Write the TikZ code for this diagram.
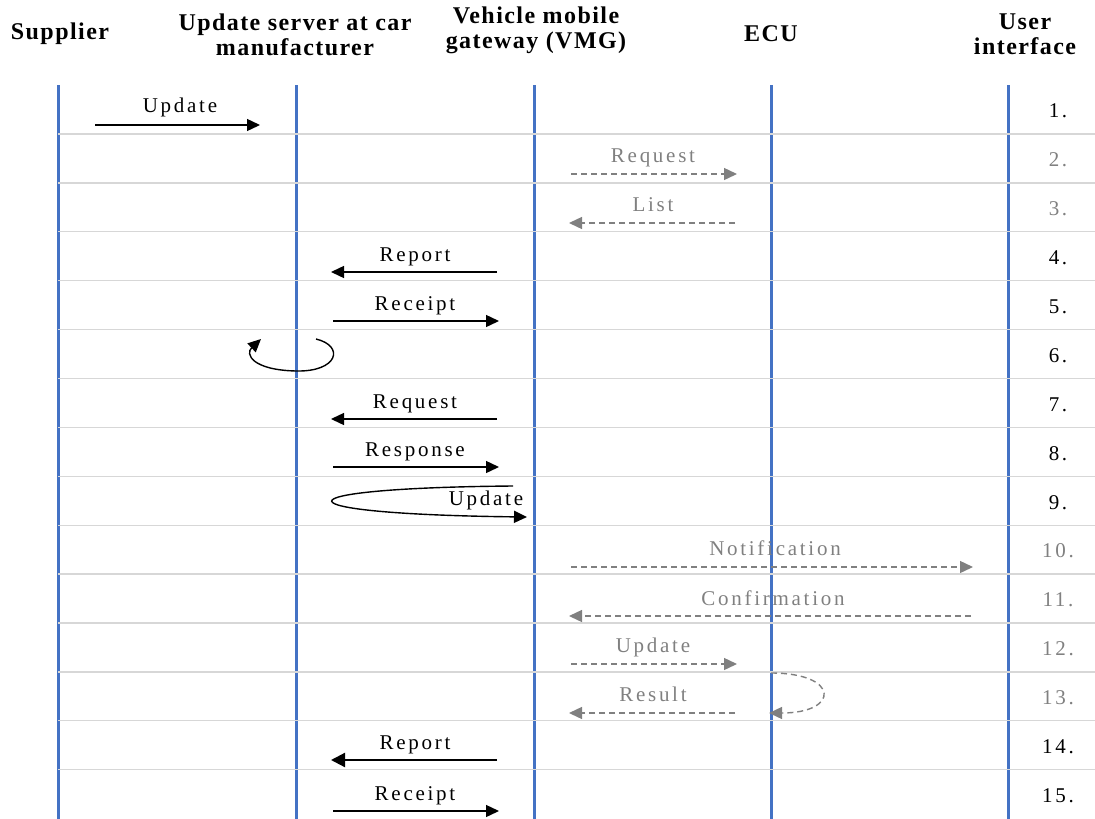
\documentclass[tikz,border=0pt]{standalone}
\usepackage{fontspec}
\setmainfont{Liberation Serif}
\newfontfamily\msgfont[LetterSpace=13]{Liberation Serif}
\newfontfamily\headfont[LetterSpace=6]{Liberation Serif}
\usetikzlibrary{positioning, arrows.meta}

\definecolor{lifeblue}{RGB}{68,114,196}
\definecolor{msggray}{RGB}{128,128,128}
\definecolor{rulegray}{RGB}{215,215,215}

\begin{document}
\begin{tikzpicture}[x=1pt, y=-1pt, >={Triangle[length=13pt,width=12pt]},
    lifeline/.style={lifeblue, line width=3pt},
    rowrule/.style={rulegray, line width=1.3pt},
    msg/.style={->, line width=1.4pt},
    boldmsg/.style={-{Triangle[length=14pt,width=14pt]}, line width=2.2pt},
    dashmsg/.style={->, msggray, line width=1.4pt, dash pattern=on 6pt off 4pt},
    lbl/.style={font=\msgfont\fontsize{21}{21}\selectfont, inner sep=0pt, anchor=base},
    graylbl/.style={lbl, text=msggray},
    head/.style={font=\headfont\bfseries\fontsize{24}{25}\selectfont, align=center, inner sep=0pt}]

    \useasboundingbox (0,0) rectangle (1095,819);

    % Column headers
    \node[head] (supplier) at (60,34) {Supplier};
    \node[head] (server) at (295,35) {Update server at car\\manufacturer};
    \node[head] (vmg) at (536,30) {Vehicle mobile\\gateway (VMG)};
    \node[head] (ecu) at (771,34) {ECU};
    \node[head] (ui) at (1025,34) {User\\interface};

    % Lifelines
    \draw[lifeline] (58,85) -- (58,819);
    \draw[lifeline] (296,85) -- (296,819);
    \draw[lifeline] (534,85) -- (534,819);
    \draw[lifeline] (771,85) -- (771,819);
    \draw[lifeline] (1008,85) -- (1008,819);

    % Row separators and step numbers
    \foreach \i in {1,...,14}
        \draw[rowrule] (58,{134+48.9*(\i-1)}) -- (1095,{134+48.9*(\i-1)});
    \foreach \i in {1,4,5,6,7,8,9,14,15}
        \node[lbl, anchor=center] (num\i) at (1058,{111+48.9*(\i-1)}) {\i.};
    \foreach \i in {2,3,10,11,12,13}
        \node[graylbl, anchor=center] (num\i) at (1058,{111+48.9*(\i-1)}) {\i.};

    % Message end points
    \coordinate (update1-from) at (95,125);
    \coordinate (update1-to) at (260,125);
    \coordinate (request2-from) at (571,174);
    \coordinate (request2-to) at (737,174);
    \coordinate (list3-from) at (735,223);
    \coordinate (list3-to) at (569,223);
    \coordinate (report4-from) at (497,272);
    \coordinate (report4-to) at (331,272);
    \coordinate (receipt5-from) at (333,321);
    \coordinate (receipt5-to) at (499,321);
    \coordinate (loop6-from) at (316,339);
    \coordinate (loop6-to) at (261,339);
    \coordinate (request7-from) at (497,419);
    \coordinate (request7-to) at (331,419);
    \coordinate (response8-from) at (333,467);
    \coordinate (response8-to) at (499,467);
    \coordinate (loop9-from) at (513,486);
    \coordinate (loop9-to) at (527,517);
    \coordinate (notify10-from) at (571,567);
    \coordinate (notify10-to) at (973,567);
    \coordinate (confirm11-from) at (971,616);
    \coordinate (confirm11-to) at (569,616);
    \coordinate (update12-from) at (571,664);
    \coordinate (update12-to) at (737,664);
    \coordinate (loop13-from) at (771,673);
    \coordinate (loop13-to) at (769,713);
    \coordinate (result13-from) at (735,713);
    \coordinate (result13-to) at (569,713);
    \coordinate (report14-from) at (497,760);
    \coordinate (report14-to) at (331,760);
    \coordinate (receipt15-from) at (333,811);
    \coordinate (receipt15-to) at (499,811);

    % Message labels
    \node[lbl] (update1) at (180,112) {Update};
    \node[graylbl] (request2) at (653,162) {Request};
    \node[graylbl] (list3) at (653,211) {List};
    \node[lbl] (report4) at (415,261) {Report};
    \node[lbl] (receipt5) at (415,310) {Receipt};
    \node[lbl] (request7) at (415,408) {Request};
    \node[lbl] (response8) at (415,456) {Response};
    \node[lbl] (update9) at (486,505) {Update};
    \node[graylbl] (notify10) at (775,555) {Notification};
    \node[graylbl] (confirm11) at (773,605) {Confirmation};
    \node[graylbl] (update12) at (653,652) {Update};
    \node[graylbl] (result13) at (653,701) {Result};
    \node[lbl] (report14) at (415,749) {Report};
    \node[lbl] (receipt15) at (415,800) {Receipt};

    % Messages
    \draw[msg] (update1-from) -- (update1-to);
    \draw[dashmsg] (request2-from) -- (request2-to);
    \draw[dashmsg] (list3-from) -- (list3-to);
    \draw[msg] (report4-from) -- (report4-to);
    \draw[msg] (receipt5-from) -- (receipt5-to);
    \draw[msg] (loop6-from) .. controls (345,346) and (338,372) .. (296,371)
        .. controls (252,370) and (245,354) .. (loop6-to);
    \draw[msg] (request7-from) -- (request7-to);
    \draw[msg] (response8-from) -- (response8-to);
    \draw[msg] (loop9-from) .. controls (271,488) and (271,514) .. (loop9-to);
    \draw[dashmsg] (notify10-from) -- (notify10-to);
    \draw[dashmsg] (confirm11-from) -- (confirm11-to);
    \draw[dashmsg] (update12-from) -- (update12-to);
    \draw[dashmsg] (loop13-from) .. controls (840,673) and (840,713) .. (loop13-to);
    \draw[dashmsg] (result13-from) -- (result13-to);
    \draw[boldmsg] (report14-from) -- (report14-to);
    \draw[msg] (receipt15-from) -- (receipt15-to);

\end{tikzpicture}
\end{document}
